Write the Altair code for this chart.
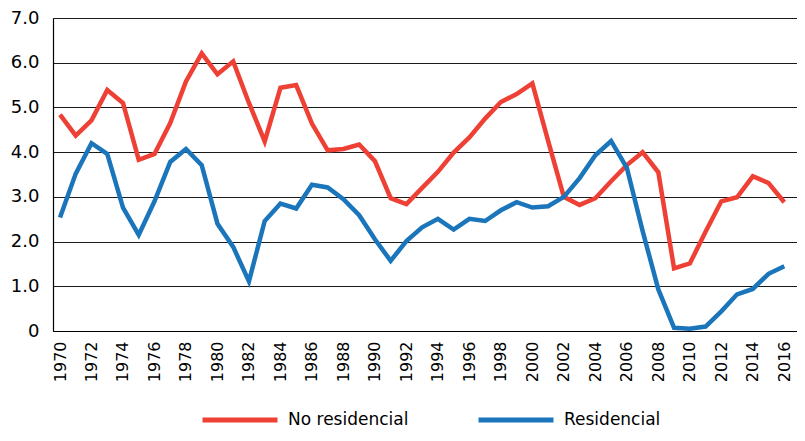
import altair as alt
import pandas as pd

years = list(range(1970, 2017))

no_residencial = [4.84, 4.37, 4.71, 5.39, 5.10, 3.83, 3.96, 4.65, 5.58, 6.21,
                  5.74, 6.03, 5.10, 4.24, 5.44, 5.50, 4.64, 4.04, 4.07, 4.17,
                  3.80, 2.97, 2.84, 3.20, 3.56, 3.99, 4.33, 4.75, 5.12, 5.30,
                  5.54, 4.25, 3.00, 2.82, 2.97, 3.35, 3.71, 4.00, 3.55, 1.40,
                  1.51, 2.22, 2.90, 2.99, 3.46, 3.31, 2.88]

residencial = [2.54, 3.52, 4.20, 3.96, 2.76, 2.15, 2.90, 3.78, 4.07, 3.71,
               2.40, 1.88, 1.11, 2.46, 2.85, 2.74, 3.27, 3.21, 2.95, 2.59,
               2.05, 1.57, 2.01, 2.32, 2.51, 2.27, 2.51, 2.46, 2.70, 2.88,
               2.76, 2.79, 3.00, 3.42, 3.93, 4.25, 3.65, 2.24, 0.93, 0.07,
               0.05, 0.10, 0.44, 0.82, 0.94, 1.28, 1.45]

series_names = ["No residencial", "Residencial"]
series_colors = ["#EE4035", "#1B75BB"]
x_ticks = list(range(1970, 2017, 2))
y_ticks = [0, 1, 2, 3, 4, 5, 6, 7]

rows = []
for name, vals in zip(series_names, [no_residencial, residencial]):
    for y, v in zip(years, vals):
        rows.append({"year": y, "value": v, "serie": name})
df = pd.DataFrame(rows)

FONT = "DejaVu Sans"

chart = alt.Chart(df).mark_line(strokeWidth=4.5, strokeJoin="miter").encode(
    x=alt.X("year:Q",
            scale=alt.Scale(domain=[1969.555, 2016.807], nice=False, zero=False),
            axis=alt.Axis(values=x_ticks, format="d", labelAngle=-90, ticks=False,
                          grid=False, domain=True, domainColor="#000000", domainWidth=1.2,
                          labelFont=FONT, labelFontSize=16, labelColor="#000000",
                          labelPadding=10, title=None, labelFlush=False, labelOverlap=False)),
    y=alt.Y("value:Q",
            scale=alt.Scale(domain=[0, 7], nice=False),
            axis=alt.Axis(values=y_ticks, ticks=False, grid=True, gridColor="#1a1a1a",
                          gridWidth=1, domain=True, domainColor="#000000", domainWidth=1.2,
                          labelExpr="datum.value == 0 ? '0' : format(datum.value, '.1f')",
                          labelFont=FONT, labelFontSize=18, labelColor="#000000",
                          labelPadding=14, title=None)),
    color=alt.Color("serie:N",
                    scale=alt.Scale(domain=series_names, range=series_colors),
                    legend=alt.Legend(orient="none", legendX=147, legendY=362,
                                      direction="horizontal", title=None,
                                      symbolType="stroke", symbolSize=5625,
                                      symbolStrokeWidth=5, labelFont=FONT,
                                      labelFontSize=17, labelColor="#000000",
                                      labelOffset=8, columnPadding=59, padding=0)),
    detail="serie:N",
).properties(
    width=744,
    height=313,
    autosize=alt.AutoSizeParams(type="none"),
    padding={"left": 45, "top": 10, "right": 0, "bottom": 98},
).configure_view(stroke=None).configure(background="#ffffff")

chart.save("out.html", embed_options={"renderer": "svg", "actions": False})
